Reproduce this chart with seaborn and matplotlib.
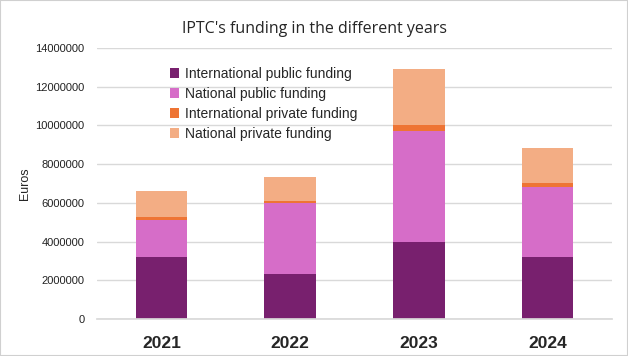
import pandas as pd
import matplotlib.pyplot as plt
import seaborn as sns

sns.set_theme(style="white")
plt.rcParams['font.family'] = ['Liberation Sans', 'DejaVu Sans']

years = ['2021', '2022', '2023', '2024']
intl_public = [3180000, 2350000, 3960000, 3180000]
natl_public = [1930000, 3650000, 5770000, 3640000]
intl_private = [150000, 90000, 310000, 210000]
natl_private = [1350000, 1250000, 2860000, 1820000]

series = ['International public funding', 'National public funding',
          'International private funding', 'National private funding']
colors = ['#78206E', '#D66DC8', '#EE7434', '#F3AD84']

df = pd.DataFrame({'Year': years,
                   series[0]: intl_public,
                   series[1]: natl_public,
                   series[2]: intl_private,
                   series[3]: natl_private})

# cumulative sums for stacking (draw tallest first)
cum = df[series].cumsum(axis=1)
cum['Year'] = df['Year']

fig = plt.figure(figsize=(6.28, 3.56), dpi=100)
ax = fig.add_axes([0.1545, 0.104, 0.82, 0.761])

for s, c in reversed(list(zip(series, colors))):
    sns.barplot(data=cum, x='Year', y=s, color=c, width=0.4,
                saturation=1, linewidth=0, ax=ax, label=s)

ax.set_ylim(0, 14000000)
ax.set_yticks(range(0, 14000001, 2000000))
ax.set_yticklabels([str(v) for v in range(0, 14000001, 2000000)],
                   fontsize=8, color='#222222')
ax.yaxis.grid(True, color='#d9d9d9', linewidth=1)
ax.set_axisbelow(True)
for sp in ['left', 'right', 'top']:
    ax.spines[sp].set_visible(False)
ax.spines['bottom'].set_color('#d9d9d9')
ax.tick_params(axis='y', length=0, pad=9)
ax.tick_params(axis='x', length=0, pad=12)
for lbl in ax.get_xticklabels():
    lbl.set_fontsize(12.5)
    lbl.set_fontweight('bold')
ax.set_xlabel('')
ax.set_ylabel('Euros', fontsize=9, labelpad=3)

handles, labels = ax.get_legend_handles_labels()
order = [labels.index(s) for s in series]
ax.legend([handles[i] for i in order], [labels[i] for i in order],
          loc='upper left', bbox_to_anchor=(0.13, 0.95), frameon=False,
          fontsize=10, handlelength=0.7, handleheight=0.7,
          handletextpad=0.4, labelspacing=0.42, borderaxespad=0)

fig.suptitle("IPTC's funding in the different years", x=0.5, y=0.94,
             fontsize=11.5, family=['Open Sans', 'DejaVu Sans'])

fig.patches.append(plt.Rectangle((0, 0), 1, 1, transform=fig.transFigure,
                                 fill=False, edgecolor='#d0d0d0', linewidth=1.5))

plt.savefig('out.png', dpi=100)
